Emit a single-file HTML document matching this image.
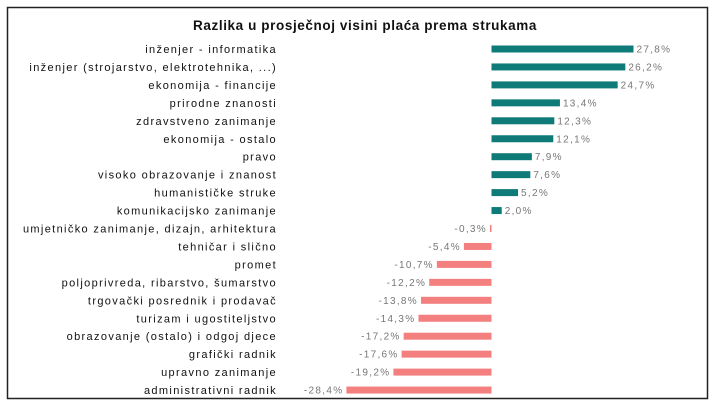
<!DOCTYPE html>
<html><head><meta charset="utf-8"><style>
body{margin:0;background:#fff;}
svg text{font-family:"Liberation Sans",sans-serif;}
</style></head><body>
<svg width="720" height="410" viewBox="0 0 720 410" xmlns="http://www.w3.org/2000/svg">
<rect x="7.5" y="7.5" width="700" height="391" fill="#fff" stroke="#222" stroke-width="1.5"/>
<text x="365" y="30" text-anchor="middle" font-size="13.5" font-weight="bold" letter-spacing="0.6" fill="#111">Razlika u prosječnoj visini plaća prema strukama</text>
<g id="bars"></g>
</svg>
<script>
const categories=["inženjer - informatika","inženjer (strojarstvo, elektrotehnika, ...)","ekonomija - financije","prirodne znanosti","zdravstveno zanimanje","ekonomija - ostalo","pravo","visoko obrazovanje i znanost","humanističke struke","komunikacijsko zanimanje","umjetničko zanimanje, dizajn, arhitektura","tehničar i slično","promet","poljoprivreda, ribarstvo, šumarstvo","trgovački posrednik i prodavač","turizam i ugostiteljstvo","obrazovanje (ostalo) i odgoj djece","grafički radnik","upravno zanimanje","administrativni radnik"];
const values=[27.8,26.2,24.7,13.4,12.3,12.1,7.9,7.6,5.2,2.0,-0.3,-5.4,-10.7,-12.2,-13.8,-14.3,-17.2,-17.6,-19.2,-28.4];
const labels=["27,8%","26,2%","24,7%","13,4%","12,3%","12,1%","7,9%","7,6%","5,2%","2,0%","-0,3%","-5,4%","-10,7%","-12,2%","-13,8%","-14,3%","-17,2%","-17,6%","-19,2%","-28,4%"];
const ns="http://www.w3.org/2000/svg";
const g=document.getElementById('bars');
const x0=491.5, k=142/27.8;
function xs(v){return x0+v*k;}
function ys(i){return 49+i*17.95;}
for(let i=0;i<categories.length;i++){
  const v=values[i],y=ys(i);
  const t=document.createElementNS(ns,'text');
  
  
  t.setAttribute('x',277);t.setAttribute('y',y+4);t.setAttribute('text-anchor','end');
  t.setAttribute('font-size','11');t.setAttribute('letter-spacing','1.35');t.setAttribute('fill','#111');
  t.textContent=categories[i];g.appendChild(t);
  const r=document.createElementNS(ns,'rect');
  
  
  const a=Math.min(xs(v),x0),b=Math.max(xs(v),x0);
  r.setAttribute('x',a);r.setAttribute('y',y-3.5);r.setAttribute('width',Math.max(b-a,1.5));r.setAttribute('height',7);
  r.setAttribute('fill',v>=0?'#0e7b78':'#f47f7f');g.appendChild(r);
  const l=document.createElementNS(ns,'text');
  
  
  l.setAttribute('y',y+3.5);l.setAttribute('font-size','10');l.setAttribute('letter-spacing','1.3');l.setAttribute('fill','#777');
  if(v>=0){l.setAttribute('x',b+3);}else{l.setAttribute('x',a-3);l.setAttribute('text-anchor','end');}
  l.textContent=labels[i];g.appendChild(l);
}
</script>
</body></html>
